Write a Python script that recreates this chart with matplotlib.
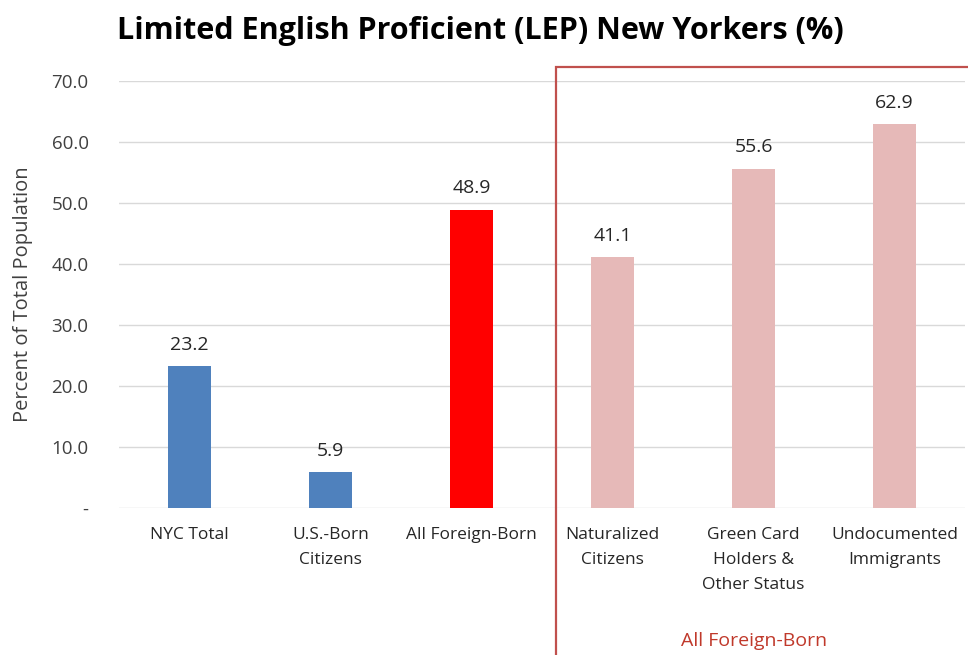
import matplotlib.pyplot as plt
from matplotlib.patches import Rectangle

# Données
categories = ['NYC Total', 'U.S.-Born\nCitizens', 'All Foreign-Born',
              'Naturalized\nCitizens', 'Green Card\nHolders &\nOther Status',
              'Undocumented\nImmigrants']
valeurs = [23.2, 5.9, 48.9, 41.1, 55.6, 62.9]
couleurs = ['#4F81BD', '#4F81BD', '#FF0000', '#E6B9B8', '#E6B9B8', '#E6B9B8']
graduations = [0, 10, 20, 30, 40, 50, 60, 70]

plt.rcParams['font.family'] = ['Open Sans', 'DejaVu Sans']

fig = plt.figure(figsize=(9.68, 6.55), dpi=100)
ax = fig.add_axes([0.123, 0.2244, 0.874, 0.652])

x = list(range(len(categories)))
ax.bar(x, valeurs, width=0.31, color=couleurs, zorder=3)

# Étiquettes de valeurs au-dessus des barres
for xi, v in zip(x, valeurs):
    ax.annotate(f'{v:.1f}', (xi, v), xytext=(0, 9), textcoords='offset points',
                ha='center', va='bottom', fontsize=14, color='#262626')

ax.set_xlim(-0.5, len(categories) - 0.5)
ax.set_ylim(0, 70)
ax.set_yticks(graduations)
ax.set_yticklabels(['-' if g == 0 else f'{g:.1f}' for g in graduations],
                   fontsize=13.5, color='#404040')
ax.set_xticks(x)
ax.set_xticklabels(categories, fontsize=12.5, color='#262626', linespacing=1.75,
                   va='top')
ax.tick_params(axis='both', length=0)
ax.tick_params(axis='y', pad=22)
ax.tick_params(axis='x', pad=14)
ax.grid(axis='y', color='#D9D9D9', linewidth=1, zorder=0)
for s in ax.spines.values():
    s.set_visible(False)

ax.set_ylabel('Percent of Total Population', fontsize=14.5, color='#404040',
              labelpad=13)

fig.text(0.496, 0.952, 'Limited English Proficient (LEP) New Yorkers (%)',
         ha='center', va='center', fontsize=22, fontweight='bold', color='black')

# Cadre rouge autour des groupes nés à l'étranger
cadre = Rectangle((0.574, -0.05), 0.5, 0.948, transform=fig.transFigure,
                  fill=False, edgecolor='#C0504D', linewidth=1.6, clip_on=False)
fig.add_artist(cadre)
fig.text(0.779, 0.022, 'All Foreign-Born', ha='center', va='center',
         fontsize=14, color='#C0392B')

plt.savefig('out.png', dpi=100)
